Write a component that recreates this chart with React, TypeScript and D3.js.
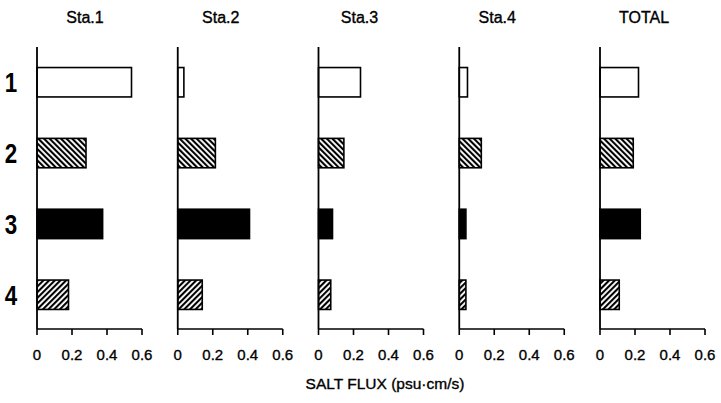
import React from "react";
import * as d3 from "d3";

const stations = ["Sta.1", "Sta.2", "Sta.3", "Sta.4", "TOTAL"];
const categories = ["1", "2", "3", "4"];
const sta1 = [0.54, 0.28, 0.375, 0.18];
const sta2 = [0.035, 0.215, 0.41, 0.14];
const sta3 = [0.24, 0.145, 0.08, 0.07];
const sta4 = [0.047, 0.126, 0.038, 0.038];
const total = [0.22, 0.19, 0.23, 0.11];
const seriesValues = [sta1, sta2, sta3, sta4, total];
const tickValues = [0, 0.2, 0.4, 0.6];
const axisTitle = "SALT FLUX (psu\u00B7cm/s)";

const fills = ["#fff", "url(#hatchBack)", "#000", "url(#hatchFwd)"];
const titleShift = [48, 43, 41, 38, 44];

export default function App() {
  const W = 721;
  const H = 403;
  const top = 47;
  const bottom = 329;
  const panelX = d3
    .scaleLinear()
    .domain([0, stations.length - 1])
    .range([37, 600]);
  const y = d3
    .scaleBand<string>()
    .domain(categories)
    .range([top, bottom + 1])
    .paddingInner(0.585)
    .paddingOuter(0.29);
  const font = "'Liberation Sans', Arial, sans-serif";
  const heavy = { stroke: "#000", strokeWidth: 0.35 };

  return (
    <svg
      width={W}
      height={H}
      style={{ position: "absolute", left: 0, top: 0, background: "#fff" }}
      fontFamily={font}
    >
      <defs>
        <pattern
          id="hatchBack"
          patternUnits="userSpaceOnUse"
          width={4}
          height={4}
          patternTransform="rotate(-45)"
        >
          <rect width={4} height={4} fill="#fff" />
          <line x1={1} y1={0} x2={1} y2={4} stroke="#000" strokeWidth={2.2} />
        </pattern>
        <pattern
          id="hatchFwd"
          patternUnits="userSpaceOnUse"
          width={4}
          height={4}
          patternTransform="rotate(45)"
        >
          <rect width={4} height={4} fill="#fff" />
          <line x1={1} y1={0} x2={1} y2={4} stroke="#000" strokeWidth={2.2} />
        </pattern>
      </defs>
      <rect width={W} height={H} fill="#fff" />

      {categories.map((c) => (
        <text
          key={c}
          transform={`translate(11, ${(y(c) ?? 0) + y.bandwidth() / 2 + 10}) scale(0.8,1)`}
          textAnchor="middle"
          fontSize={28}
          fontWeight="bold"
          fill="#000"
        >
          {c}
        </text>
      ))}

      {stations.map((s, i) => {
        const x0 = panelX(i);
        const x = d3.scaleLinear().domain([0, 0.6]).range([x0, x0 + 105]);
        const vals = seriesValues[i];
        return (
          <g key={s}>
            <text
              x={x0 + titleShift[i]}
              y={23}
              textAnchor="middle"
              fontSize={16}
              fill="#000"
              {...heavy}
            >
              {s}
            </text>
            {vals.map((v, j) => (
              <rect
                key={j}
                x={x(0)}
                y={y(categories[j])}
                width={x(v) - x(0)}
                height={y.bandwidth()}
                fill={fills[j]}
                stroke="#000"
                strokeWidth={1.6}
              />
            ))}
            <line
              x1={x0}
              x2={x0}
              y1={top}
              y2={bottom}
              stroke="#000"
              strokeWidth={1.8}
            />
            <line
              x1={x0}
              x2={x(0.6)}
              y1={bottom}
              y2={bottom}
              stroke="#000"
              strokeWidth={1.3}
            />
            {tickValues.map((t) => (
              <g key={t}>
                <line
                  x1={x(t)}
                  x2={x(t)}
                  y1={bottom}
                  y2={bottom + 6}
                  stroke="#000"
                  strokeWidth={1.6}
                />
                <text
                  x={x(t)}
                  y={360}
                  textAnchor="middle"
                  fontSize={15}
                  fill="#000"
                  {...heavy}
                >
                  {t === 0 ? "0" : String(t)}
                </text>
              </g>
            ))}
          </g>
        );
      })}

      <text
        x={385}
        y={389}
        textAnchor="middle"
        fontSize={15.5}
        fill="#000"
        {...heavy}
      >
        {axisTitle}
      </text>
    </svg>
  );
}
